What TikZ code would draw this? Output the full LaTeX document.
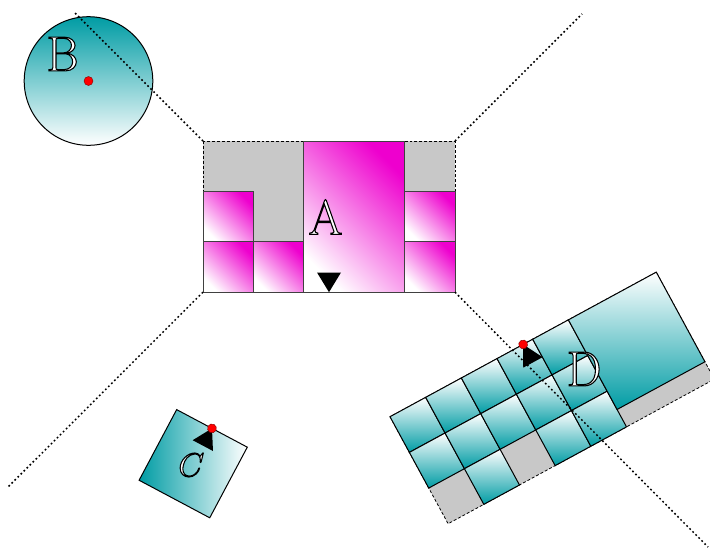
\documentclass[tikz,border=0pt]{standalone}
\usepackage{tikz}

\definecolor{tealA}{RGB}{0,156,164}
\definecolor{pinkA}{RGB}{238,0,206}
\definecolor{grayA}{RGB}{200,200,200}

% white letter with black outline (text render mode 2)
\newcommand\outlined[1]{\special{pdf:literal 2 Tr 0.8 w 0 G}#1\special{pdf:literal 0 Tr}}

\begin{document}
\begin{tikzpicture}[x=0.75pt, y=-0.75pt,
  graybg/.style={fill=grayA, draw=black, line width=0.6pt, dash pattern=on 2.2pt off 1.5pt},
  cellA/.style={draw=black!75, line width=0.75pt, top color=pinkA, bottom color=white, shading angle=-45},
  cellD/.style={draw=black, line width=0.75pt, top color=white, bottom color=tealA},
  viewline/.style={line width=1.1pt, dash pattern=on 1.3pt off 1.9pt},
  redpt/.style={fill=red, draw=red!50!black, line width=0.3pt},
  letter/.style={inner sep=0pt, text=white, font=\fontsize{37}{40}\selectfont}]

\useasboundingbox (0,0) rectangle (710,550);

% A
\begin{scope}[shift={(203,141)}]
\draw[graybg] (0,0) rectangle (252,151.2);
\foreach \c/\r in {0/1,0/2,1/2,4/1,4/2}
  \draw[cellA] ({\c*50.4},{\r*50.4}) rectangle +(50.4,50.4);
\draw[cellA] (100.8,0) rectangle (201.6,151.2);
\fill (114,131.5) -- (138,131.5) -- (126,151.2) -- cycle;
\end{scope}
\coordinate (A-nw) at (203,141);
\coordinate (A-ne) at (455,141);
\coordinate (A-sw) at (203,292.2);
\coordinate (A-se) at (455,292.2);

% B
\draw[top color=tealA, bottom color=white, line width=0.75pt] (88.5,81) circle (64.3);
\draw[redpt] (88.5,81) circle (4.5);

% C
\begin{scope}[shift={(193.2,463.7)}, rotate=-28]
\draw[left color=tealA, right color=white, line width=0.75pt] (-40,-40) rectangle (40,40);
\fill (0,-40) -- (-11.5,-20.5) -- (11.5,-20.5) -- cycle;
\draw[redpt] (0,-40) circle (4.5);
\end{scope}

% D
\begin{scope}[shift={(390,416.7)}, rotate=28.5]
\draw[graybg] (0,0) rectangle (303,121.8);
\foreach \c/\r in {0/0,1/0,2/0,3/0,4/0,0/1,1/1,2/1,3/1,4/1,1/2,3/2,4/2}
  \draw[cellD] ({\c*40.6},{\r*40.6}) rectangle +(40.6,40.6);
\draw[cellD] (203,0) rectangle (303,102);
\fill (151.5,0) -- (140.5,20.5) -- (162.5,20.5) -- cycle;
\draw[redpt] (151.5,0) circle (4.5);
\end{scope}

% view lines
\coordinate (end-nw) at (75,13);
\coordinate (end-ne) at (582,14);
\coordinate (end-sw) at (8,487);
\coordinate (end-se) at (708,547);
\draw[viewline] (A-nw) -- (end-nw);
\draw[viewline] (A-ne) -- (end-ne);
\draw[viewline] (A-sw) -- (end-sw);
\draw[viewline] (A-se) -- (end-se);

\node[letter] (labA) at (325.5,217) {\outlined{A}};
\node[letter] (labB) at (62.5,54) {\outlined{B}};
\node[letter] (labC) at (191.3,465) {\outlined{$C$}};
\node[letter] (labD) at (584,369) {\outlined{D}};

\end{tikzpicture}
\end{document}
